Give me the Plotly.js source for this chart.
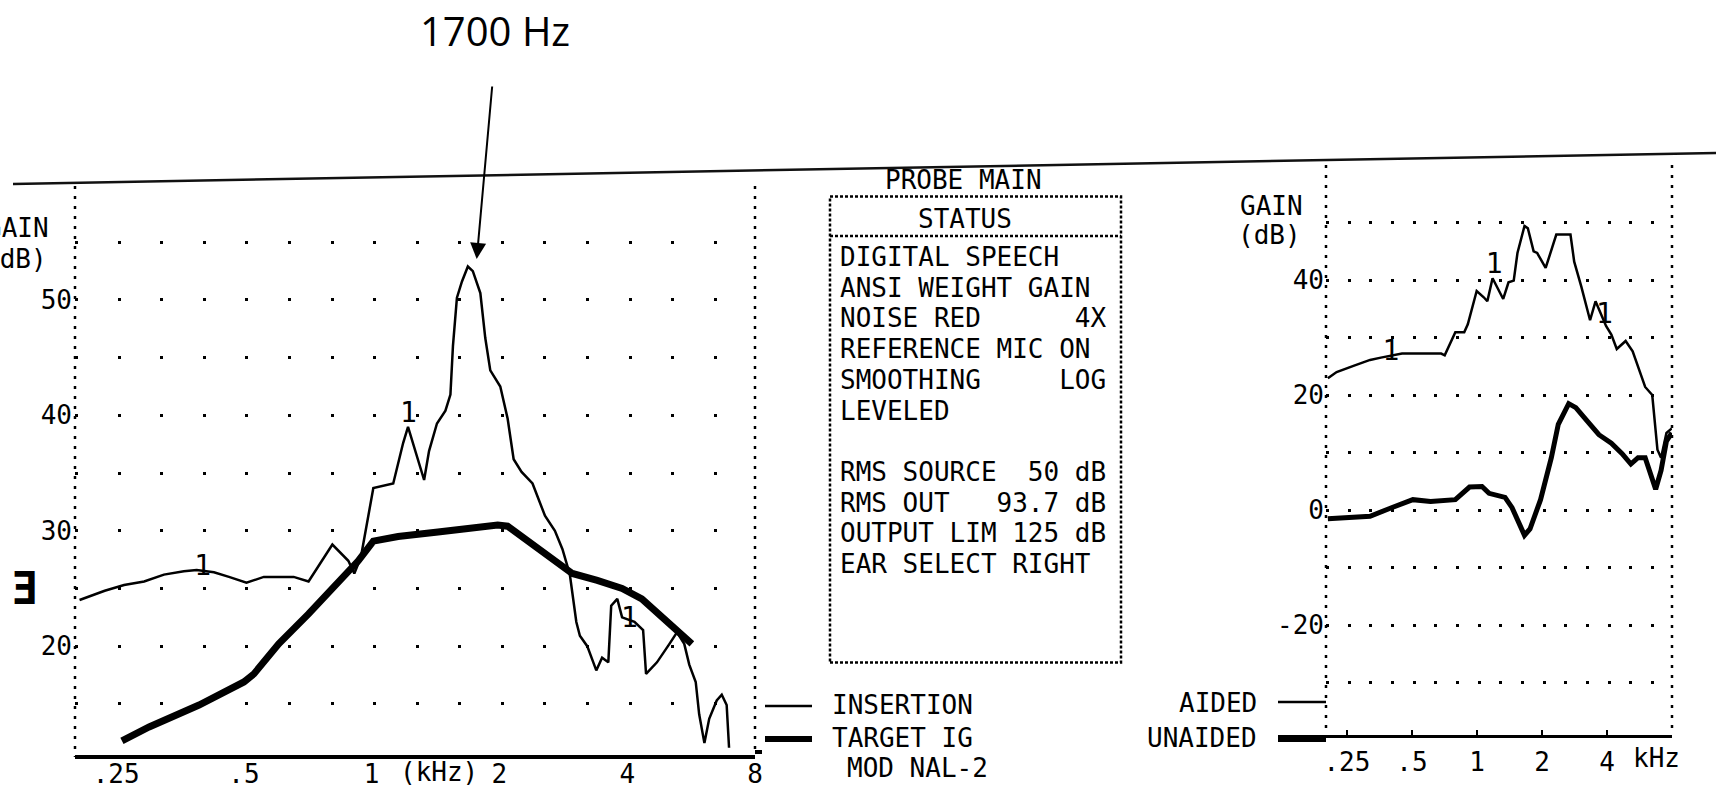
<!DOCTYPE html>
<html>
<head>
<meta charset="utf-8">
<script src="https://cdn.plot.ly/plotly-3.0.1.min.js"></script>
<style>
  html, body { margin: 0; padding: 0; background: #fff; }
  #chart { width: 1716px; height: 795px; }
</style>
</head>
<body>
<div id="chart"></div>
<script>
// ---------------- DATA ----------------
// Left panel: real-ear insertion gain (thin) and NAL-2 target (thick)
const insertionFreq = [0.205,0.235,0.261,0.291,0.324,0.361,0.387,0.425,0.461,0.507,0.557,0.655,0.710,0.808,0.881,0.910,0.943,0.982,1.009,1.124,1.154,1.186,1.218,1.268,1.329,1.365,1.425,1.492,1.533,1.554,1.588,1.632,1.685,1.731,1.803,1.852,1.903,2.009,2.091,2.160,2.255,2.393,2.560,2.702,2.815,2.930,3.035,3.094,3.220,3.382,3.490,3.610,3.667,3.790,3.890,4.160,4.360,4.430,4.700,5.030,5.240,5.450,5.600,5.800,5.910,6.080,6.240,6.500,6.680,6.860,6.950];
const insertionGain = [24.0,24.8,25.3,25.6,26.2,26.5,26.6,26.4,26.0,25.5,26.0,26.0,25.6,28.8,27.4,26.3,27.7,31.3,33.7,34.1,35.8,37.6,39.0,36.9,34.4,36.9,39.3,40.4,41.8,46.0,50.2,51.6,52.9,52.5,50.6,46.7,43.9,42.5,39.7,36.2,35.1,34.1,31.3,30.0,28.4,26.2,22.1,20.9,20.0,17.9,19.0,18.6,23.5,24.1,22.5,22.1,21.4,17.6,18.6,20.2,21.2,20.2,18.4,16.9,14.1,11.6,13.7,15.3,15.8,14.9,11.2];
const targetFreq = [0.258,0.299,0.392,0.500,0.528,0.604,0.710,0.835,0.930,1.009,1.154,1.433,1.778,1.981,2.090,2.330,2.600,2.970,3.400,3.890,4.330,4.960,5.380,5.680];
const targetGain = [11.8,13.0,14.9,16.9,17.6,20.2,22.8,25.6,27.4,29.1,29.5,29.9,30.3,30.5,30.4,29.1,27.9,26.3,25.7,25.0,24.1,22.1,21.1,20.2];
const leftCurveLabelFreq = [0.40, 1.22, 4.05];
const leftCurveLabelGain = [26.8, 40.0, 22.3];

// Right panel: aided (thin) and unaided (thick) gain
const aidedFreq = [0.204,0.224,0.270,0.320,0.359,0.450,0.683,0.709,0.794,0.873,0.907,0.997,1.075,1.117,1.181,1.323,1.400,1.480,1.540,1.660,1.720,1.830,1.900,2.080,2.330,2.710,2.820,3.040,3.340,3.540,3.960,4.190,4.440,4.880,5.260,6.010,6.480,6.850,7.120,7.540,7.980];
const aidedGain = [22.9,24.0,25.1,26.1,26.5,27.2,27.2,26.9,30.9,30.9,32.3,38.1,37.0,36.3,40.3,36.7,39.6,39.9,44.7,49.4,49.0,45.0,44.7,42.1,47.9,47.9,43.2,38.9,33.0,36.3,32.0,30.5,28.0,29.4,27.6,21.4,20.0,10.5,9.1,13.4,14.2];
const unaidedFreq = [0.204,0.320,0.402,0.505,0.610,0.794,0.924,1.055,1.138,1.349,1.454,1.570,1.660,1.760,1.970,2.210,2.380,2.660,2.870,3.220,3.670,4.190,4.700,5.160,5.570,6.010,6.360,6.720,7.120,7.540,7.980];
const unaidedGain = [-1.5,-1.1,0.4,1.8,1.5,1.8,4.0,4.1,2.9,2.2,0.4,-2.5,-4.4,-3.3,1.8,9.1,14.9,18.5,17.8,15.6,13.1,11.6,9.8,8.0,9.1,9.1,6.2,3.6,6.9,12.0,13.4];
const rightCurveLabelFreq = [0.40, 1.20, 3.89];
const rightCurveLabelGain = [27.3, 42.5, 33.8];

// Tick labels
const leftXTickVals = [0.25, 0.5, 1, 2, 4, 8];
const leftXTickText = [".25", ".5", "1", "2", "4", "8"];
const rightXTickVals = [0.25, 0.5, 1, 2, 4];
const rightXTickText = [".25", ".5", "1", "2", "4"];
const leftYTickVals = [20, 30, 40, 50];
const leftYTickText = ["20", "30", "40", "50"];
const rightYTickVals = [-20, 0, 20, 40];
const rightYTickText = ["-20", "0", "20", "40"];

// Status panel text
const NB = "\u00a0";
const statusLines = [
  "DIGITAL SPEECH",
  "ANSI WEIGHT GAIN",
  "NOISE RED" + NB.repeat(6) + "4X",
  "REFERENCE MIC ON",
  "SMOOTHING" + NB.repeat(5) + "LOG",
  "LEVELED",
  "",
  "RMS SOURCE" + NB.repeat(2) + "50 dB",
  "RMS OUT" + NB.repeat(3) + "93.7 dB",
  "OUTPUT LIM 125 dB",
  "EAR SELECT RIGHT"
];

// ---------------- LAYOUT HELPERS ----------------
const W = 1716, H = 795;
const px = x => x / W;
const py = y => 1 - y / H;
const MONO = "DejaVu Sans Mono";
const INK = "#000";

function txt(t, x, y, extra) {
  return Object.assign({
    text: t, xref: "paper", yref: "paper", x: px(x), y: py(y),
    showarrow: false, xanchor: "left", yanchor: "middle",
    font: { family: MONO, size: 26, color: INK }
  }, extra || {});
}
function hline(x0, x1, y, w, dash, color) {
  return { type: "line", xref: "paper", yref: "paper", x0: px(x0), x1: px(x1), y0: py(y), y1: py(y),
           line: { color: color || INK, width: w, dash: dash || "solid" } };
}
function vline(x, y0, y1, w, dash) {
  return { type: "line", xref: "paper", yref: "paper", x0: px(x), x1: px(x), y0: py(y0), y1: py(y1),
           line: { color: INK, width: w, dash: dash || "solid" } };
}

// plot-area geometry (pixels)
const L = { x0: 75, x1: 755, top: 185.7, bottom: 755 };
const R = { x0: 1326, x1: 1672, top: 165.6, bottom: 735 };
const xRange = [Math.log10(0.2), Math.log10(8)];

// ---------------- TRACES ----------------
const traces = [
  { x: targetFreq, y: targetGain, xaxis: "x", yaxis: "y", mode: "lines", name: "TARGET IG",
    line: { color: INK, width: 7 }, showlegend: false },
  { x: insertionFreq, y: insertionGain, xaxis: "x", yaxis: "y", mode: "lines", name: "INSERTION",
    line: { color: INK, width: 2.5 }, showlegend: false },
  { x: leftCurveLabelFreq, y: leftCurveLabelGain, xaxis: "x", yaxis: "y", mode: "text",
    text: leftCurveLabelFreq.map(() => "1"), textfont: { family: MONO, size: 28, color: INK }, showlegend: false },
  { x: unaidedFreq, y: unaidedGain, xaxis: "x2", yaxis: "y2", mode: "lines", name: "UNAIDED",
    line: { color: INK, width: 5 }, showlegend: false },
  { x: aidedFreq, y: aidedGain, xaxis: "x2", yaxis: "y2", mode: "lines", name: "AIDED",
    line: { color: INK, width: 2.5 }, showlegend: false },
  { x: rightCurveLabelFreq, y: rightCurveLabelGain, xaxis: "x2", yaxis: "y2", mode: "text",
    text: rightCurveLabelFreq.map(() => "1"), textfont: { family: MONO, size: 28, color: INK }, showlegend: false }
];

// ---------------- AXES ----------------
const thirdOctLeft = (L.x1 - L.x0) / (Math.log2(40) * 3);
const thirdOctRight = (R.x1 - R.x0) / (Math.log2(40) * 3);
const dotGrid = (step) => ({ showgrid: true, gridcolor: INK, gridwidth: 3,
                             griddash: "3px," + (step - 3).toFixed(2) + "px" });

const layout = {
  width: W, height: H,
  margin: { l: 0, r: 0, t: 0, b: 0 },
  paper_bgcolor: "#fff", plot_bgcolor: "rgba(0,0,0,0)",
  showlegend: false,
  font: { family: MONO, color: INK },
  xaxis: {
    domain: [px(L.x0), px(L.x1)], anchor: "y", type: "log", range: xRange,
    tickmode: "array", tickvals: leftXTickVals, ticktext: leftXTickText,
    ticks: "", showgrid: false, zeroline: false,
    showline: true, linecolor: INK, linewidth: 4,
    tickfont: { family: MONO, size: 26, color: INK }, ticklabelstandoff: -7
  },
  yaxis: Object.assign({
    domain: [py(L.bottom), py(L.top)], anchor: "x", range: [10.57, 59.9],
    tickmode: "array", tickvals: leftYTickVals, ticktext: leftYTickText,
    ticks: "", zeroline: false, showline: false,
    tickfont: { family: MONO, size: 26, color: INK }, ticklabelstandoff: 2,
    minor: Object.assign({ tickmode: "linear", tick0: 0, dtick: 5 }, dotGrid(thirdOctLeft))
  }, dotGrid(thirdOctLeft)),
  xaxis2: {
    domain: [px(R.x0), px(R.x1)], anchor: "y2", type: "log", range: xRange,
    tickmode: "array", tickvals: rightXTickVals, ticktext: rightXTickText,
    ticks: "inside", ticklen: 5, tickwidth: 2, tickcolor: INK,
    showgrid: false, zeroline: false,
    showline: true, linecolor: INK, linewidth: 3,
    tickfont: { family: MONO, size: 26, color: INK }, ticklabelstandoff: 2
  },
  yaxis2: Object.assign({
    domain: [py(R.bottom), py(R.top)], anchor: "x2", range: [-39.13, 59.9],
    tickmode: "array", tickvals: rightYTickVals, ticktext: rightYTickText,
    ticks: "", zeroline: false, showline: false,
    tickfont: { family: MONO, size: 26, color: INK }, ticklabelstandoff: 1,
    minor: Object.assign({ tickmode: "linear", tick0: 0, dtick: 10 }, dotGrid(thirdOctRight))
  }, dotGrid(thirdOctRight)),
  shapes: [
    // printout top rule (scan is slightly tilted)
    { type: "line", xref: "paper", yref: "paper", x0: px(13), y0: py(184), x1: px(1716), y1: py(153),
      line: { color: "#111", width: 2.5 } },
    // left panel dotted frame
    vline(L.x0, 186, 757, 2.5, "3px,7px"),
    vline(L.x1, 186, 752, 2.5, "3px,7px"),
    hline(L.x1, 762, 752, 4),
    // right panel dotted frame
    vline(R.x0, 165, 740, 2.5, "3px,7px"),
    vline(R.x1, 165, 733, 2.5, "3px,7px"),
    // status box
    { type: "rect", xref: "paper", yref: "paper", x0: px(830), x1: px(1121), y0: py(662.5), y1: py(196.5),
      line: { color: INK, width: 2.5, dash: "3px,2px" } },
    hline(830, 1121, 236, 2.5, "3px,2px"),
    // left key samples
    hline(765, 812, 706, 2.5),
    hline(765, 812, 739, 6),
    // right key samples
    hline(1278, 1326, 702, 2.5),
    hline(1278, 1326, 738.5, 7)
  ],
  annotations: [
    // callout
    { text: "1700 Hz", xref: "paper", yref: "paper", x: px(495), y: py(31), showarrow: false,
      xanchor: "center", yanchor: "middle", font: { family: "Open Sans", size: 40, color: INK } },
    { text: "", xref: "paper", yref: "paper", x: px(476.7), y: py(259), showarrow: true,
      axref: "pixel", ayref: "pixel", ax: 15.6, ay: -174, arrowhead: 2, arrowsize: 1.6,
      arrowwidth: 2, arrowcolor: INK, standoff: 0, startstandoff: 0 },
    // left panel labels (clipped at the page edge, as in the scan)
    txt("GAIN", 51, 228, { xanchor: "right" }),
    txt("(dB)", 49, 259, { xanchor: "right" }),
    txt("\u018E", 24, 588, { xanchor: "center", font: { family: MONO, size: 44, color: INK, weight: "bold" } }),
    txt("(kHz)", 398, 772),
    // left key
    txt("INSERTION", 830, 705),
    txt("TARGET IG", 830, 737.5),
    txt("MOD NAL-2", 845, 767.5),
    // status header
    txt("PROBE MAIN", 964, 180, { xanchor: "center" }),
    txt("STATUS", 964.5, 219, { xanchor: "center" }),
    // right panel labels
    txt("GAIN", 1305, 205.6, { xanchor: "right" }),
    txt("(dB)", 1303, 235, { xanchor: "right" }),
    txt("kHz", 1631, 758),
    txt("AIDED", 1259, 703, { xanchor: "right" }),
    txt("UNAIDED", 1259, 737.5, { xanchor: "right" })
  ].concat(statusLines.map((s, i) => s ? txt(s, 838, 257 + i * 30.7) : null).filter(Boolean))
};

Plotly.newPlot("chart", traces, layout, { staticPlot: true, displayModeBar: false });
</script>
</body>
</html>
